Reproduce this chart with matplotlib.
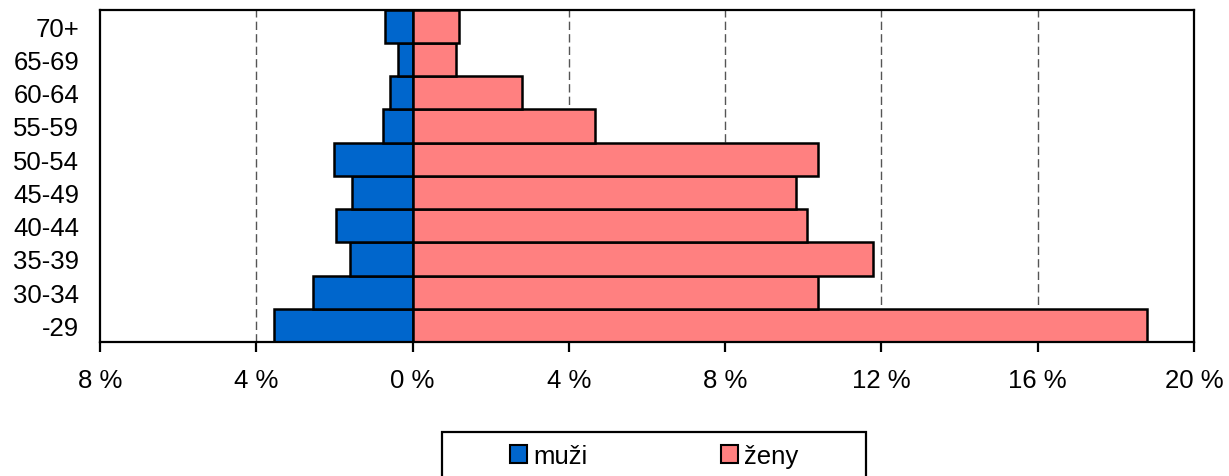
import matplotlib
matplotlib.use("Agg")
import matplotlib.pyplot as plt
from matplotlib.patches import Rectangle, Patch

plt.rcParams['font.family'] = ['Liberation Sans', 'DejaVu Sans']

categories = ["-29", "30-34", "35-39", "40-44", "45-49", "50-54", "55-59", "60-64", "65-69", "70+"]
muzi = [3.55, 2.54, 1.61, 1.97, 1.54, 2.01, 0.75, 0.57, 0.37, 0.71]
zeny = [18.8, 10.38, 11.79, 10.1, 9.81, 10.38, 4.67, 2.79, 1.10, 1.19]
xticks = [-8, -4, 0, 4, 8, 12, 16, 20]
xticklabels = ["8 %", "4 %", "0 %", "4 %", "8 %", "12 %", "16 %", "20 %"]

W, H = 1229, 477
FS = 18.5
fig = plt.figure(figsize=(W / 100, H / 100), dpi=100)
ax = fig.add_axes([100 / W, 1 - 343 / H, 1094 / W, (343 - 10.5) / H])

blue = "#0066CC"
pink = "#FF8080"
y = list(range(len(categories)))
ax.barh(y, [-m for m in muzi], height=1.0, color=blue, edgecolor="black", linewidth=1.8, zorder=3)
ax.barh(y, zeny, height=1.0, color=pink, edgecolor="black", linewidth=1.8, zorder=3)

for g in [-4, 4, 8, 12, 16]:
    ax.axvline(g, color="#555555", linestyle=(0, (6, 3)), linewidth=1.0, zorder=1)

ax.set_xlim(-8, 20)
ax.set_ylim(-0.5, len(categories) - 0.5)
ax.set_xticks(xticks)
ax.set_xticklabels(xticklabels, fontsize=FS)
ax.set_yticks(y)
ax.set_yticklabels(categories, fontsize=FS)
ax.tick_params(axis="x", direction="out", length=7, width=1.6, pad=12)
ax.tick_params(axis="y", length=0, pad=15)
for s in ax.spines.values():
    s.set_linewidth(1.6)
    s.set_zorder(4)

# legend frame (cut off at bottom of figure)
fig.patches.append(Rectangle((442 / W, -0.05), 424 / W, 1 - 433 / H + 0.05, transform=fig.transFigure,
                             fill=False, edgecolor="black", linewidth=1.6, clip_on=False))
handles = [Patch(facecolor=blue, edgecolor="black", linewidth=1.5, label="muži"),
           Patch(facecolor=pink, edgecolor="black", linewidth=1.5, label="ženy")]
fig.legend(handles=handles, ncol=2, loc="center", bbox_to_anchor=(654 / W, 1 - 457 / H),
           frameon=False, fontsize=FS, handlelength=0.66, handleheight=0.66,
           handletextpad=0.25, columnspacing=5.2, borderpad=0)

fig.savefig("out.png", dpi=100)
